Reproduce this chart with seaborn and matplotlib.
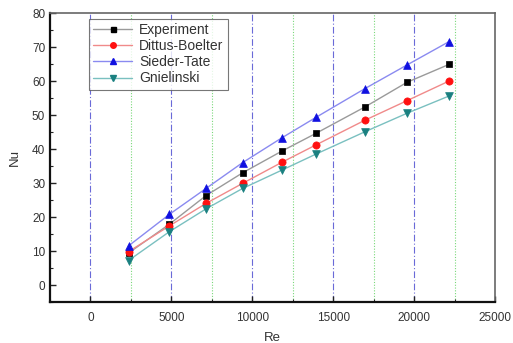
import matplotlib
matplotlib.use("Agg")
import matplotlib.pyplot as plt
from matplotlib.lines import Line2D
from matplotlib.ticker import MultipleLocator
import seaborn as sns
import pandas as pd

re_vals = [2350, 4880, 7140, 9400, 11830, 13930, 16970, 19550, 22160]
experiment = [9.4, 17.9, 26.3, 33.0, 39.4, 44.6, 52.4, 59.6, 64.9]
dittus = [9.8, 17.4, 24.0, 29.9, 36.1, 41.2, 48.5, 54.2, 60.0]
sieder = [11.5, 20.8, 28.4, 36.0, 43.3, 49.3, 57.8, 64.7, 71.6]
gnielinski = [7.2, 15.7, 22.4, 28.4, 33.8, 38.5, 45.1, 50.5, 55.6]
series_names = ["Experiment", "Dittus-Boelter", "Sieder-Tate", "Gnielinski"]

sns.set_style("white")
plt.rcParams['font.family'] = ['Liberation Sans', 'DejaVu Sans']

fig = plt.figure(figsize=(5.13, 3.43), dpi=100)
ax = fig.add_axes([0.0975, 0.1195, 0.8675, 0.8425])

styles = [
    ("black", "#9a9a9a", "s", 4.6, 3.6),
    ("#ff1010", "#f08a8a", "o", 5.2, 4.0),
    ("#1010e0", "#8a8af0", "^", 5.6, 4.4),
    ("#1a8080", "#7ac0c0", "v", 5.6, 4.4),
]
all_vals = [experiment, dittus, sieder, gnielinski]

# grid lines
for xv in [0, 5000, 10000, 15000, 20000]:
    ax.axvline(xv, color="#6a6ad8", lw=0.8, ls=(0, (6, 2, 1, 2)), zorder=0)
for xv in [2500, 7500, 12500, 17500, 22500]:
    ax.axvline(xv, color="#7ad87a", lw=0.8, ls=(0, (1, 1.5)), zorder=0)

handles = []
for name, vals, (mc, lc, mk, ms, lms) in zip(series_names, all_vals, styles):
    df = pd.DataFrame({"Re": re_vals, "Nu": vals})
    sns.lineplot(data=df, x="Re", y="Nu", ax=ax, color=lc, lw=1.0, zorder=2)
    sns.scatterplot(data=df, x="Re", y="Nu", ax=ax, color=mc, marker=mk,
                    s=ms**2, edgecolor=mc, linewidth=0.5, zorder=3)
    handles.append(Line2D([], [], color=lc, lw=1.0, marker=mk, markersize=lms,
                          markerfacecolor=mc, markeredgecolor=mc))

ax.set_xlim(-2500, 25000)
ax.set_ylim(-5, 80)
ax.xaxis.set_major_locator(MultipleLocator(5000))
ax.xaxis.set_minor_locator(MultipleLocator(2500))
ax.yaxis.set_major_locator(MultipleLocator(10))
ax.yaxis.set_minor_locator(MultipleLocator(5))
ax.tick_params(which="both", direction="in", colors="#222222", labelsize=8.5,
               labelcolor="#333333")
ax.tick_params(which="major", length=4, width=1.0, bottom=True, left=True)
ax.tick_params(which="minor", length=2.5, width=0.8, bottom=True, left=True)
ax.tick_params(axis="x", pad=7)

for side in ["left", "bottom"]:
    ax.spines[side].set_color("#111111")
    ax.spines[side].set_linewidth(1.6)
for side in ["top", "right"]:
    ax.spines[side].set_color("#666666")
    ax.spines[side].set_linewidth(1.2)

ax.set_xlabel("Re", fontsize=9.5, color="#333333", labelpad=6)
ax.set_ylabel("Nu", fontsize=9.5, color="#333333", labelpad=8)

leg = ax.legend(handles, series_names, loc="upper left",
                bbox_to_anchor=(0.1735, 0.9446), bbox_transform=fig.transFigure,
                frameon=True, fancybox=False, fontsize=10, handlelength=2.8,
                handletextpad=0.5, borderpad=0.3, labelspacing=0.15,
                borderaxespad=0, markerscale=1.0)
leg.get_frame().set_edgecolor("#555555")
leg.get_frame().set_linewidth(0.8)
for t in leg.get_texts():
    t.set_color("#333333")

fig.savefig("out.png", dpi=100)
